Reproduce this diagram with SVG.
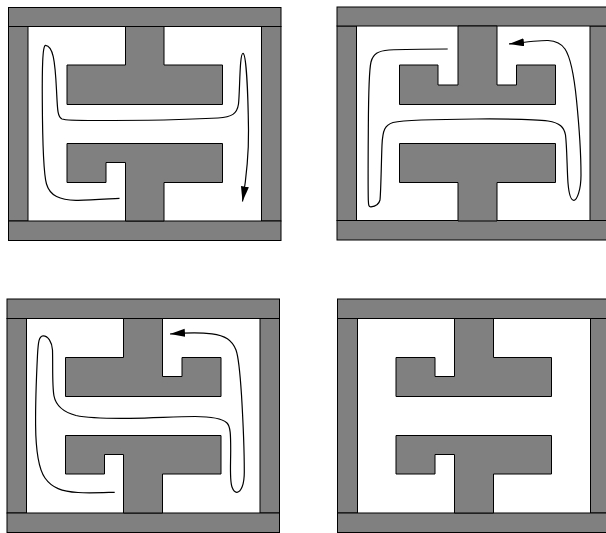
<svg xmlns="http://www.w3.org/2000/svg" width="606" height="533" viewBox="0 0 606 533">
<style>
.w{fill:#808080;stroke:#000;stroke-width:1}
.c{fill:none;stroke:#000;stroke-width:1.2}
</style>
<defs>
<marker id="a" markerUnits="userSpaceOnUse" markerWidth="16" markerHeight="9" refX="15" refY="4" orient="auto"><path d="M0 0L15 4L0 8Z" fill="#000"/></marker>
</defs>
<rect width="606" height="533" fill="#fff"/>
<g id="panel1">
<rect class="w" x="8.5" y="26.5" width="19.5" height="194.5"/>
<rect class="w" x="261.5" y="26.5" width="19.5" height="194.5"/>
<rect class="w" x="8.5" y="7.5" width="272.5" height="19"/>
<rect class="w" x="8.5" y="221" width="272.5" height="19.5"/>
<path class="w" d="M125.500 26.500H164V65H222.500V104.500H67V65H125.500Z"/>
<path class="w" d="M67 143.500H222.500V182.500H164V221H125.500V162.500H106V182.500H67Z"/>
</g>
<g id="panel2">
<rect class="w" x="337" y="26" width="19.500" height="194.500"/>
<rect class="w" x="590" y="26" width="19.500" height="194.500"/>
<rect class="w" x="337" y="7" width="272.500" height="19"/>
<rect class="w" x="337" y="220.500" width="272.500" height="19.500"/>
<path class="w" d="M458 26H497V85H516.500V65H555.500V104.500H399.500V65H438V85H458Z"/>
<path class="w" d="M399.500 143.500H555.500V182.500H497V221H458V182.500H399.500Z"/>
</g>
<g id="panel3">
<rect class="w" x="7" y="318.500" width="19.500" height="194.500"/>
<rect class="w" x="260" y="318.500" width="19.500" height="194.500"/>
<rect class="w" x="7" y="299" width="272.500" height="19.500"/>
<rect class="w" x="7" y="513" width="272.500" height="19.500"/>
<path class="w" d="M123.500 318.500H162.500V376.500H182V357.500H221V396.500H65.500V357.500H123.500Z"/>
<path class="w" d="M65.500 435.500H221V474H162.500V513H123.500V454.500H104.500V474H65.500Z"/>
</g>
<g id="panel4">
<rect class="w" x="337.500" y="318.500" width="20" height="194.500"/>
<rect class="w" x="590.500" y="318.500" width="20" height="194.500"/>
<rect class="w" x="337.500" y="299" width="273" height="19.500"/>
<rect class="w" x="337.500" y="513" width="273" height="19.500"/>
<path class="w" d="M454.500 318.500H493.500V357.500H551.500V396.500H396V357.500H435V376.500H454.500Z"/>
<path class="w" d="M396 435.500H551.500V474H493.500V513H454.500V454.500H435V474H396Z"/>
</g>
<g id="connectors">
<path class="c" marker-end="url(#a)" d="M119.500 198.300C100 199.500 88 200.500 76 200.300C60 200 50 196 46.500 184C43 172 42.500 140 42.300 100C42.100 70 42.500 45 45.500 45.300C53 46 55 60 56.500 90C57.500 110 57.500 117 62 119C66 120.500 75 120.500 95 120.500C130 120.500 190 119.500 218 118C232 117 237 114 238.500 104C240 90 239.500 53 243 53.300C246 53.600 248 90 248.500 130C248.800 155 246 180 242.500 201.500"/>
<path class="c" marker-end="url(#a)" d="M447.700 49C425 49 402 49.300 389 50C378 50.800 373 54 371 62C368.500 72 368.500 100 368.300 133C368.100 160 368 185 368.300 200C368.500 206 369 207 371 206.800C376 206.300 379 204 380 200C381 190 381.200 165 382 145C382.700 130 385 125 393 122.500C405 120 440 119.200 476 119C510 118.800 535 119 548 121C560 123 564 127 565.500 135C567 147 567 170 568 183C569 195 571 200.500 574 200.300C577 200 581 190 581 175C581 155 579 125 576.500 100C574 75 571 58 565 49C561 43 556 41 548 40.500C540 40.300 530 41.500 509 44"/>
<path class="c" marker-end="url(#a)" d="M114.700 492.300C100 492.700 88 493.200 78 492.500C62 491.500 52 488 45 478C38 468 35.800 450 35.600 425C35.400 400 36.500 375 37.500 355C38.200 342 39 336 43 335.800C48 335.600 52 342 52.500 350C53 365 52 385 54 396C56 406 63 412 76 415.500C90 418.500 110 418.500 130 418.300C155 418 175 416.500 195 416.500C210 416.500 222 418.500 227 423C230.500 426.500 230.700 435 230.700 450C230.700 465 229.500 480 232 487C233.500 491 235 492.500 237 492.300C241 491.800 244.300 485 244.300 472C244.300 450 243 420 241.500 395C240 372 239 358 236 350C232 340 225 335.500 212 333.800C200 332.500 185 332.800 170 334"/>
</g>
</svg>
